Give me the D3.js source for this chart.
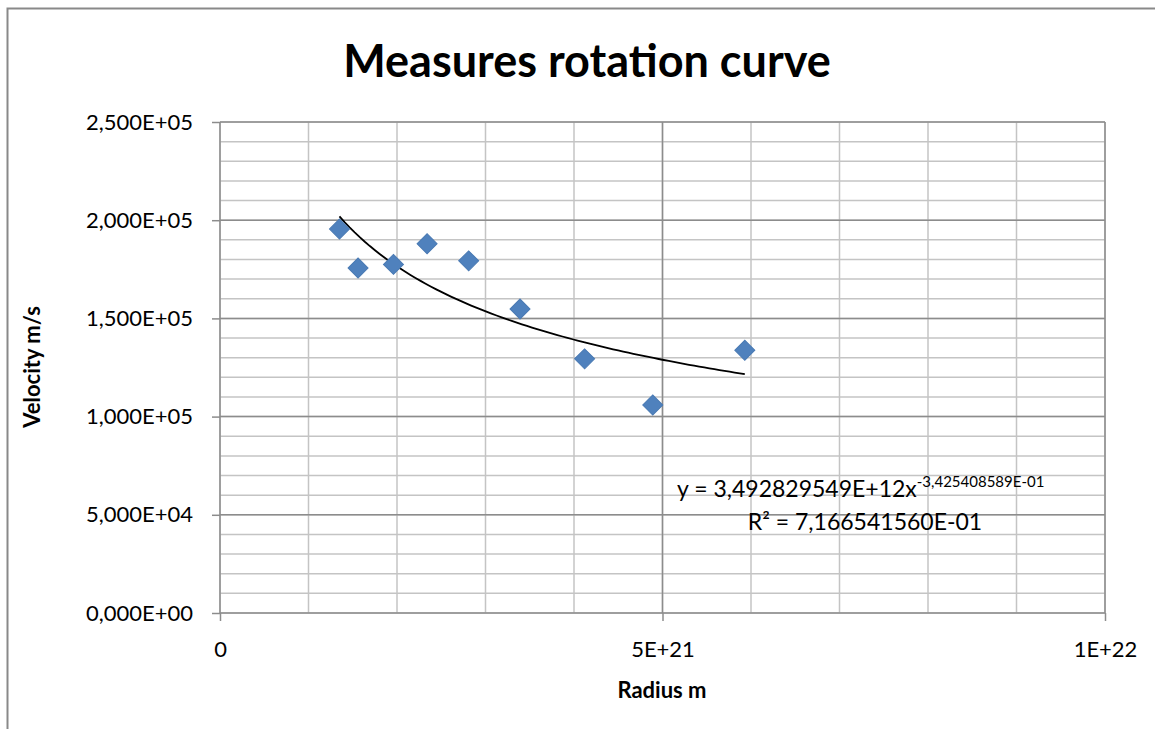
<!DOCTYPE html>
<html>
<head>
<meta charset="utf-8">
<script src="https://cdn.jsdelivr.net/npm/d3@7"></script>
<style>
  body { margin: 0; background: #fff; }
  svg { display: block; font-family: Lato, "Open Sans", sans-serif; }
</style>
</head>
<body>
<div class="canvas"></div>
<script>
// measured points
const radius = [1.35e21, 1.56e21, 1.96e21, 2.34e21, 2.81e21, 3.39e21, 4.12e21, 4.89e21, 5.93e21];
const velocity = [195500, 175700, 177500, 188000, 179300, 154800, 129400, 105900, 133800];

// power trendline from the chart label: y = a * x^b
const trendA = 3.492829549e12;
const trendB = -0.3425408589;
const trendLabel = 'y = 3,492829549E+12x';
const trendExpLabel = '-3,425408589E-01';
const r2Label = 'R² = 7,166541560E-01';

const xTicks = [0, 5e21, 1e22];
const xMinorTicks = d3.range(0, 1.01e22, 1e21);
const yTicks = [0, 5e4, 1e5, 1.5e5, 2e5, 2.5e5];
const yMinorTicks = d3.range(0, 2.51e5, 1e4);

const width = 1155, height = 729;
const plot = { left: 220, right: 1105, top: 122, bottom: 613 };

const svg = d3.select('.canvas')
    .append('svg')
    .attr('width', width)
    .attr('height', height);

// chart frame
svg.append('rect')
    .attr('x', 7.5).attr('y', 8.5)
    .attr('width', 1160).attr('height', 740)
    .attr('fill', '#fff')
    .attr('stroke', '#898989')
    .attr('stroke-width', 2);

const x = d3.scaleLinear().domain([0, 1e22]).range([plot.left, plot.right]);
const y = d3.scaleLinear().domain([0, 2.5e5]).range([plot.bottom, plot.top]);

const grid = svg.append('g');

// minor gridlines
grid.selectAll('.hminor')
    .data(yMinorTicks)
    .enter().append('line')
    .attr('x1', plot.left).attr('x2', plot.right)
    .attr('y1', d => y(d)).attr('y2', d => y(d))
    .attr('stroke', '#c4c4c4').attr('stroke-width', 1.5);

grid.selectAll('.vminor')
    .data(xMinorTicks)
    .enter().append('line')
    .attr('y1', plot.top).attr('y2', plot.bottom)
    .attr('x1', d => x(d)).attr('x2', d => x(d))
    .attr('stroke', '#c4c4c4').attr('stroke-width', 1.5);

// major gridlines
grid.selectAll('.hmajor')
    .data(yTicks)
    .enter().append('line')
    .attr('x1', plot.left).attr('x2', plot.right)
    .attr('y1', d => y(d)).attr('y2', d => y(d))
    .attr('stroke', '#8c8c8c').attr('stroke-width', 1.5);

grid.selectAll('.vmajor')
    .data(xTicks)
    .enter().append('line')
    .attr('y1', plot.top).attr('y2', plot.bottom)
    .attr('x1', d => x(d)).attr('x2', d => x(d))
    .attr('stroke', '#8c8c8c').attr('stroke-width', 1.5);

// tick number formats like 2,500E+05 and 5E+21
const fmtY = v => {
    const [m, e] = v.toExponential(3).split('e');
    const ex = parseInt(e, 10);
    return m.replace('.', ',') + 'E' + (ex < 0 ? '-' : '+') + String(Math.abs(ex)).padStart(2, '0');
};
const fmtX = v => {
    if (v === 0) return '0';
    const [m, e] = v.toExponential().split('e');
    const ex = parseInt(e, 10);
    return m.replace('.', ',') + 'E' + (ex < 0 ? '-' : '+') + String(Math.abs(ex)).padStart(2, '0');
};

const yAxis = svg.append('g')
    .attr('transform', `translate(${plot.left},0)`)
    .call(d3.axisLeft(y).tickValues(yTicks).tickFormat(fmtY).tickSize(8).tickPadding(19));

const xAxis = svg.append('g')
    .attr('transform', `translate(0,${plot.bottom})`)
    .call(d3.axisBottom(x).tickValues(xTicks).tickFormat(fmtX).tickSize(8).tickPadding(20));

[yAxis, xAxis].forEach(ax => {
    ax.select('.domain').remove();
    ax.selectAll('.tick line').attr('stroke', '#8c8c8c').attr('stroke-width', 1.5);
    ax.selectAll('.tick text')
        .attr('fill', '#000')
        .style('font-size', '22px')
        .style('font-family', 'Lato, sans-serif');
});

// trendline
const trendX = d3.range(d3.min(radius), d3.max(radius) * 1.0001, (d3.max(radius) - d3.min(radius)) / 80);
const trendLine = d3.line()
    .x(d => x(d))
    .y(d => y(trendA * Math.pow(d, trendB)));

svg.append('path')
    .datum(trendX)
    .attr('d', trendLine)
    .attr('fill', 'none')
    .attr('stroke', '#000')
    .attr('stroke-width', 1.8);

// markers
const diamond = d3.symbol().type(d3.symbolSquare).size(200);
svg.append('g')
    .selectAll('path')
    .data(radius.map((r, i) => ({ r, v: velocity[i] })))
    .enter().append('path')
    .attr('d', diamond)
    .attr('transform', d => `translate(${x(d.r)},${y(d.v)}) rotate(45)`)
    .attr('fill', '#4f81bd')
    .attr('stroke', '#4a7ab3')
    .attr('stroke-width', 1);

// title
svg.append('text')
    .attr('x', 587).attr('y', 77)
    .attr('text-anchor', 'middle')
    .style('font-size', '45px')
    .style('font-weight', 'bold')
    .text('Measures rotation curve');

// axis titles
svg.append('text')
    .attr('x', 662).attr('y', 698)
    .attr('text-anchor', 'middle')
    .style('font-size', '22px')
    .style('font-weight', 'bold')
    .text('Radius m');

svg.append('text')
    .attr('transform', 'translate(40,367) rotate(-90)')
    .attr('text-anchor', 'middle')
    .style('font-size', '22px')
    .style('font-weight', 'bold')
    .text('Velocity m/s');

// trendline label
const eq = svg.append('text')
    .attr('x', 677).attr('y', 497)
    .style('font-size', '23px');
eq.append('tspan').text(trendLabel);
eq.append('tspan')
    .attr('dy', -10)
    .style('font-size', '15px')
    .text(trendExpLabel);

svg.append('text')
    .attr('x', 865).attr('y', 530)
    .attr('text-anchor', 'middle')
    .style('font-size', '23px')
    .text(r2Label);
</script>
</body>
</html>
